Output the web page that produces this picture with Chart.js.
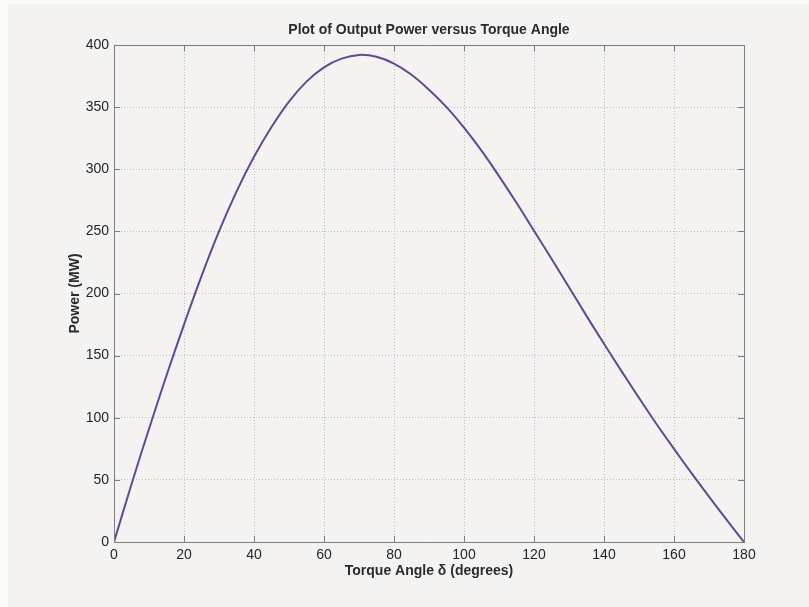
<!DOCTYPE html>
<html>
<head>
<meta charset="utf-8">
<script src="https://cdn.jsdelivr.net/npm/chart.js@4/dist/chart.umd.min.js"></script>
<style>
  html, body { margin: 0; padding: 0; background: #fafaf9; }
  #wrap { position: relative; width: 809px; height: 607px; }
  canvas { display: block; }
</style>
</head>
<body>
<div id="wrap"><canvas id="c" width="809" height="607"></canvas></div>
<script>
// Torque angle (degrees)
const angleDeg = [0, 5, 10, 15, 20, 25, 30, 35, 40, 45, 50, 55, 60, 65, 70, 75, 80, 85, 90,
                  95, 100, 105, 110, 115, 120, 125, 130, 135, 140, 145, 150, 155, 160, 165, 170, 175, 180];
// Output power (MW)
const powerMW = [0, 46.5, 91, 134, 175, 214, 250, 282, 310, 334, 354.5, 370.5, 382, 389, 392, 390.5, 385, 376, 364,
                 350, 333.5, 315, 294.5, 273, 250.5, 228, 205, 182, 159.5, 137.5, 116, 95, 75, 55.5, 36.5, 18, 0];
const xTicks = [0, 20, 40, 60, 80, 100, 120, 140, 160, 180];
const yTicks = [0, 50, 100, 150, 200, 250, 300, 350, 400];

const titleText = 'Plot of Output Power versus Torque Angle';
const xLabel = 'Torque Angle \u03b4 (degrees)';
const yLabel = 'Power (MW)';

const FONT = "'Liberation Sans', Arial, Helvetica, sans-serif";
const AXIS_COLOR = '#7d7d7d';

const boxPlugin = {
  id: 'boxPlugin',
  beforeDraw(chart) {
    const ctx = chart.ctx;
    ctx.save();
    ctx.fillStyle = '#fafaf9';
    ctx.fillRect(0, 0, chart.width, chart.height);
    ctx.fillStyle = '#f4f3f1';
    ctx.fillRect(8, 4, chart.width - 8, chart.height - 4);
    ctx.restore();
  },
  afterDraw(chart) {
    const {ctx, chartArea: a, scales} = chart;
    ctx.save();
    ctx.strokeStyle = AXIS_COLOR;
    ctx.lineWidth = 1;
    ctx.beginPath();
    ctx.rect(Math.round(a.left) + 0.5, Math.round(a.top) + 0.5,
             Math.round(a.right - a.left), Math.round(a.bottom - a.top));
    ctx.stroke();
    const L = 6;
    ctx.beginPath();
    xTicks.forEach(v => {
      const px = Math.round(scales.x.getPixelForValue(v)) + 0.5;
      ctx.moveTo(px, a.bottom); ctx.lineTo(px, a.bottom - L);
      ctx.moveTo(px, a.top); ctx.lineTo(px, a.top + L);
    });
    yTicks.forEach(v => {
      const py = Math.round(scales.y.getPixelForValue(v)) + 0.5;
      ctx.moveTo(a.left, py); ctx.lineTo(a.left + L, py);
      ctx.moveTo(a.right, py); ctx.lineTo(a.right - L, py);
    });
    ctx.stroke();
    // title centred over the plot area
    ctx.fillStyle = '#2b2b2b';
    ctx.font = "bold 14px " + FONT;
    ctx.textAlign = 'center';
    ctx.textBaseline = 'middle';
    ctx.fillText(titleText, (a.left + a.right) / 2, 30);
    ctx.restore();
  }
};

new Chart(document.getElementById('c'), {
  type: 'line',
  data: {
    datasets: [{
      data: angleDeg.map((d, i) => ({x: d, y: powerMW[i]})),
      borderColor: '#634a8f',
      borderWidth: 2,
      pointRadius: 0,
      fill: false,
      tension: 0.4
    }]
  },
  options: {
    responsive: false,
    animation: false,
    devicePixelRatio: 1,
    layout: { padding: { left: 0, right: 65, top: 45, bottom: 0 } },
    plugins: {
      legend: { display: false },
      tooltip: { enabled: false },
      title: { display: false }
    },
    scales: {
      x: {
        type: 'linear',
        min: 0, max: 180,
        afterBuildTicks(scale) { scale.ticks = xTicks.map(v => ({value: v})); },
        afterFit(scale) { scale.height = 65; },
        ticks: {
          color: '#262626',
          font: { family: FONT, size: 14 },
          padding: 5,
          maxRotation: 0,
          autoSkip: false,
          callback: v => String(v)
        },
        grid: { color: '#bdbdbd', lineWidth: 1, drawTicks: false },
        border: { display: true, color: AXIS_COLOR, dash: [1, 2] },
        title: {
          display: true,
          text: xLabel,
          color: '#2b2b2b',
          font: { family: FONT, size: 14, weight: 'bold' },
          padding: { top: 0, bottom: 27.6 }
        }
      },
      y: {
        type: 'linear',
        min: 0, max: 400,
        afterBuildTicks(scale) { scale.ticks = yTicks.map(v => ({value: v})); },
        afterFit(scale) { scale.width = 114; },
        ticks: {
          color: '#262626',
          font: { family: FONT, size: 14 },
          padding: 5,
          autoSkip: false,
          callback: v => String(v)
        },
        grid: { color: '#bdbdbd', lineWidth: 1, drawTicks: false },
        border: { display: true, color: AXIS_COLOR, dash: [1, 2] },
        title: {
          display: true,
          text: yLabel,
          color: '#2b2b2b',
          font: { family: FONT, size: 14, weight: 'bold' },
          padding: { top: 66.6, bottom: 0 }
        }
      }
    }
  },
  plugins: [boxPlugin]
});
</script>
</body>
</html>
